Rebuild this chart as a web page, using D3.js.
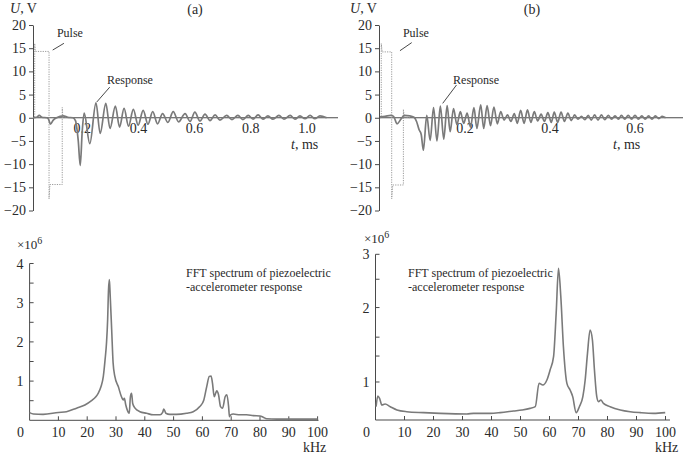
<!DOCTYPE html>
<html><head><meta charset="utf-8">
<script src="https://cdn.jsdelivr.net/npm/d3@7"></script>
<style>
body{margin:0;background:#fff;}
svg{display:block;}
text{font-family:"Liberation Serif","Times New Roman",serif;fill:#2a2a2a;}
</style></head><body>
<svg id="c" width="685" height="457"></svg>
<script>
// ---------------- DATA ----------------
const voltTicks = [-20,-15,-10,-5,0,5,10,15,20];
const timeTicksA = [0.2,0.4,0.6,0.8,1.0];
const timeTicksB = [0.2,0.4,0.6];
const freqTicks = [0,10,20,30,40,50,60,70,80,90,100];
const specTicksA = [1,2,3,4];
const specMinorA = [0.5,1.5,2.5,3.5];
const specTicksB = [1,2,3];
const specMinorB = [1.3,1.55,2.5];

// (a) pulse [t ms, U V]
const pulseA = [[0.025,0],[0.031,0],[0.031,16],[0.033,14.3],[0.082,14.3],[0.082,-17.5],[0.085,-14.4],[0.129,-14.4],[0.129,2.2],[0.131,0.2],[0.15,0]];
// (a) response [t ms, U V]
const responseA = [[0.025,0],[0.038,0.1],[0.047,0.5],[0.057,0.1],[0.074,0],[0.080,-0.3],[0.087,-1.4],[0.097,-0.5],[0.109,0],[0.133,0.4],[0.149,0.1],[0.167,0],[0.176,-0.6],
[0.186,-5],[0.193,-10.3],[0.200,-3],[0.207,1.0],[0.227,-5.6],[0.249,3.2],[0.264,-3.4],[0.284,3.1],[0.299,-2.3],[0.318,2.5],[0.333,-2.0],[0.349,2.0],[0.365,-1.8],[0.382,1.8],[0.399,-1.6],[0.417,1.6],[0.434,-1.4],[0.451,1.3],[0.468,-1.3],[0.486,0.9],[0.505,-1.0],[0.524,1.3],[0.543,-0.9],[0.566,0.9],[0.584,-0.8],[0.601,1.2],[0.619,-0.7],[0.637,0.8],[0.655,-0.6],[0.673,0.6],[0.690,-0.5],[0.714,0.5],[0.733,-0.4],[0.754,0.5],[0.772,-0.4],[0.791,0.5],[0.808,-0.3],[0.826,0.6],[0.843,-0.3],[0.861,0.4],[0.879,-0.3],[0.900,0.5],[0.918,-0.3],[0.940,0.5],[0.957,-0.3],[0.975,0.4],[0.993,-0.2],[1.011,0.5],[1.028,-0.2],[1.046,0.4],[1.070,0]];

// (b) pulse
const pulseB = [[0,0],[0.003,0],[0.003,16],[0.005,14.2],[0.0275,14.2],[0.0275,-17.5],[0.030,-14.5],[0.055,-14.5],[0.055,1.8],[0.057,0.2],[0.07,0]];
// (b) response
const responseB = [[0,0.2],[0.012,0.3],[0.025,0.5],[0.032,0.3],[0.040,-1.3],[0.050,-0.2],[0.057,0.5],[0.07,0.4],[0.08,0.1],[0.086,-0.8],[0.092,-2.6],[0.097,-3.6],[0.102,-7.0],
[0.110,0.5],[0.118,-4.9],[0.126,2.2],[0.134,-5.0],[0.142,2.5],[0.150,-4.6],[0.158,2.6],[0.165,-3.0],[0.173,2.0],[0.181,-1.5],[0.189,1.3],[0.197,-1.2],[0.205,1.0],[0.213,-2.0],[0.221,2.2],[0.228,-2.3],[0.237,2.8],[0.244,-2.3],[0.252,2.6],[0.260,-1.7],[0.268,2.3],[0.276,-1.3],[0.284,1.3],[0.292,-0.5],[0.300,0.6],[0.308,-0.8],[0.316,0.9],[0.323,-1.2],[0.331,1.6],[0.339,-1.2],[0.347,1.7],[0.355,-1.0],[0.363,1.3],[0.371,-0.7],[0.379,0.8],[0.387,-0.8],[0.395,1.1],[0.403,-1.0],[0.410,1.2],[0.418,-1.0],[0.426,1.2],[0.434,-0.8],[0.442,1.0],[0.450,-0.6],[0.458,0.6],[0.466,-0.3],[0.474,0.3],[0.482,-0.4],[0.490,0.5],[0.497,-0.5],[0.505,0.6],[0.513,-0.5],[0.521,0.6],[0.529,-0.4],[0.537,0.5],[0.545,-0.3],[0.553,0.4],[0.561,-0.3],[0.568,0.5],[0.576,-0.3],[0.584,0.5],[0.592,-0.3],[0.600,0.5],[0.608,-0.3],[0.616,0.4],[0.624,-0.3],[0.632,0.4],[0.640,-0.3],[0.648,0.4],[0.656,-0.2],[0.664,0.3],[0.672,0]];

// (a) FFT spectrum [kHz, ×10^6]
const spectrumA = [[0,0.196],[1.3,0.16],[4.7,0.15],[10,0.2],[12.8,0.22],[16.3,0.31],[19.2,0.39],[21.5,0.5],[23,0.6],[23.8,0.69],[24.8,0.86],[25.6,1.12],[26.2,1.54],[26.7,1.97],[27.1,2.57],[27.4,3.33],[27.7,3.59],[28,3.16],[28.5,2.31],[29,1.46],[29.6,1.12],[30.8,0.86],[31.9,0.6],[32.5,0.52],[32.9,0.56],[33.4,0.39],[34.3,0.2],[34.6,0.18],[35,0.6],[35.4,0.69],[35.8,0.43],[36.6,0.31],[38.3,0.22],[40.6,0.18],[42.9,0.14],[45.3,0.14],[46.2,0.2],[46.6,0.29],[47.3,0.18],[48.7,0.15],[51,0.15],[54.5,0.18],[56.8,0.22],[59.1,0.35],[60.5,0.52],[61.5,0.86],[62.4,1.12],[63,1.13],[63.5,0.95],[64.1,0.6],[64.6,0.69],[65,0.75],[65.6,0.65],[66.3,0.35],[67,0.31],[67.9,0.6],[68.5,0.65],[69.1,0.35],[69.4,0.09],[69.8,0.14],[70.7,0.16],[73,0.14],[75.3,0.14],[77.7,0.12],[80,0.11],[81.1,0.08],[82.3,0.04],[85.8,0.03],[90.4,0.03],[96.2,0.03],[100,0.03]];

// (b) FFT spectrum [kHz, ×10^6]
const spectrumB = [[0.2,0.759],[0.8,0.858],[1.4,0.836],[2.2,0.774],[3.3,0.783],[5.1,0.759],[7.4,0.730],[10.8,0.715],[16.6,0.707],[22.3,0.701],[31.5,0.696],[33.8,0.701],[39.5,0.701],[43,0.707],[47.6,0.721],[50.5,0.730],[53.3,0.744],[55.1,0.759],[56.4,0.986],[57.7,0.968],[59.1,1.021],[60.2,1.132],[61.4,1.292],[62.3,1.907],[63.1,2.712],[63.9,2.184],[64.8,1.42],[66,0.986],[67.1,0.917],[68,0.852],[69.2,0.707],[70.3,0.759],[71.5,0.852],[72.3,1.021],[73.1,1.334],[74,1.652],[74.8,1.511],[75.5,1.132],[76.3,0.852],[76.9,0.805],[77.7,0.820],[78.6,0.789],[80.9,0.759],[84.4,0.730],[87.8,0.715],[91.3,0.707],[95.9,0.701],[99.9,0.707]];

// ---------------- DRAW ----------------
const svg = d3.select("#c");
svg.append("rect").attr("width",685).attr("height",457).attr("fill","#fff");
const AX = "#4a4a4a", LINE = "#7a7a7a", PULSE = "#9a9a9a";
const fmt = d3.format("");

function timePanel(o){
  const g = svg.append("g");
  const x = d3.scaleLinear().domain(o.xDomain).range(o.xRange);
  const y = d3.scaleLinear().domain([-20,20]).range([210.5,25]);
  // y axis
  const ya = g.append("g").attr("transform",`translate(${o.axisX},0)`)
    .call(d3.axisLeft(y).tickValues(voltTicks).tickSize(4).tickSizeOuter(0).tickPadding(3).tickFormat(fmt));
  ya.selectAll("path,line").attr("stroke",AX);
  ya.selectAll("text").attr("font-size",14).attr("font-family","Liberation Serif").attr("fill","#2a2a2a");
  // zero / time axis
  g.append("line").attr("x1",o.axisX).attr("x2",o.axisEnd).attr("y1",y(0)).attr("y2",y(0)).attr("stroke",AX).attr("stroke-width",1.1);
  g.selectAll(".tl").data(o.ticks).join("text").attr("x",d=>x(d)).attr("y",y(0)+15)
    .attr("text-anchor","middle").attr("font-size",14).text(d=>d.toFixed(1));
  const tl = g.append("text").attr("x",o.tLabelX).attr("y",149).attr("font-size",14);
  tl.append("tspan").attr("font-style","italic").text("t");
  tl.append("tspan").text(", ms");
  const ul = g.append("text").attr("x",o.uLabelX).attr("y",13).attr("font-size",14);
  ul.append("tspan").attr("font-style","italic").text("U");
  ul.append("tspan").text(", V");
  g.append("text").attr("x",o.titleX).attr("y",14).attr("text-anchor","middle").attr("font-size",14).text(o.title);
  // pulse
  const line = d3.line().x(d=>x(d[0])).y(d=>y(d[1]));
  g.append("path").datum(o.pulse).attr("d",line).attr("fill","none").attr("stroke",PULSE)
    .attr("stroke-width",1).attr("stroke-dasharray","1.2,1.2");
  // response
  g.append("path").datum(o.resp).attr("d",line.curve(d3.curveMonotoneX)).attr("fill","none").attr("stroke",LINE)
    .attr("stroke-width",1.7).attr("stroke-linejoin","round");
  // annotations
  o.notes.forEach(n=>{
    g.append("line").attr("x1",x(n.from[0])).attr("y1",y(n.from[1])).attr("x2",x(n.to[0])).attr("y2",y(n.to[1]))
      .attr("stroke","#333").attr("stroke-width",0.9);
    g.append("text").attr("x",x(n.at[0])).attr("y",y(n.at[1])).attr("font-size",12).text(n.text);
  });
}

timePanel({xDomain:[0,1], xRange:[26,307], axisX:33, axisEnd:338, ticks:timeTicksA, tLabelX:291, uLabelX:10, titleX:195, title:"(a)",
  pulse:pulseA, resp:responseA,
  notes:[{from:[0.095,14.6],to:[0.135,16.05],at:[0.110,17.4],text:"Pulse"},
         {from:[0.252,3.4],to:[0.298,6.6],at:[0.288,7.2],text:"Response"}]});
timePanel({xDomain:[0,0.6], xRange:[380,635], axisX:379, axisEnd:683, ticks:timeTicksB, tLabelX:613, uLabelX:350, titleX:532, title:"(b)",
  pulse:pulseB, resp:responseB,
  notes:[{from:[0.047,14.46],to:[0.0746,16.2],at:[0.054,17.4],text:"Pulse"},
         {from:[0.1475,3.1],to:[0.18,7.06],at:[0.172,7.2],text:"Response"}]});

function specPanel(o){
  const g = svg.append("g");
  const x = d3.scaleLinear().domain([0,100]).range(o.xRange);
  const y = o.y;
  const y0 = y.range()[0], y1 = y.range()[1];
  const ax0 = x(0);
  g.append("line").attr("x1",ax0).attr("x2",ax0).attr("y1",y0).attr("y2",y1).attr("stroke",AX);
  g.append("line").attr("x1",ax0).attr("x2",o.axisEnd).attr("y1",y0).attr("y2",y0).attr("stroke",AX);
  // y ticks (inward)
  g.selectAll(".yt").data(o.major.concat(o.minor)).join("line")
    .attr("x1",ax0).attr("x2",ax0+4).attr("y1",d=>y(d)).attr("y2",d=>y(d)).attr("stroke",AX);
  g.selectAll(".yl").data(o.major).join("text").attr("x",ax0-6).attr("y",d=>y(d)+5)
    .attr("text-anchor","end").attr("font-size",14).text(d=>d);
  // x ticks (inward, up)
  g.selectAll(".xt").data(freqTicks.filter(d=>d>0)).join("line")
    .attr("x1",d=>x(d)).attr("x2",d=>x(d)).attr("y1",y0).attr("y2",y0-4).attr("stroke",AX);
  g.selectAll(".xl").data(freqTicks).join("text").attr("x",d=>d===0?x(d)-9:x(d)).attr("y",y0+17)
    .attr("text-anchor","middle").attr("font-size",14).text(d=>d);
  g.append("text").attr("x",o.kHzX).attr("y",452).attr("font-size",14).text("kHz");
  const m = g.append("text").attr("x",o.multX).attr("y",o.multY).attr("font-size",13);
  m.append("tspan").text("×10");
  m.append("tspan").attr("dy",-5).attr("font-size",10).text("6");
  // spectrum
  g.append("path").datum(o.data).attr("d",d3.line().x(d=>x(d[0])).y(d=>y(d[1])).curve(d3.curveMonotoneX))
    .attr("fill","none").attr("stroke",LINE).attr("stroke-width",1.6).attr("stroke-linejoin","round");
  const t = g.append("text").attr("x",o.noteX).attr("y",o.noteY).attr("font-size",12).attr("fill","#555");
  t.append("tspan").attr("x",o.noteX).text("FFT spectrum of piezoelectric");
  t.append("tspan").attr("x",o.noteX).attr("dy",14).text("-accelerometer response");
}

specPanel({xRange:[29.6,317.6], axisEnd:318.5, y:d3.scaleLinear().domain([0,4]).range([420.3,263.5]),
  major:specTicksA, minor:specMinorA, data:spectrumA, kHzX:303, multX:17, multY:249, noteX:186, noteY:277});
specPanel({xRange:[375.5,665.5], axisEnd:670, y:d3.scalePow().exponent(0.37).domain([0.646,3]).range([420,254.3]),
  major:specTicksB, minor:specMinorB, data:spectrumB, kHzX:655, multX:364, multY:243, noteX:408, noteY:277});
</script>
</body></html>
